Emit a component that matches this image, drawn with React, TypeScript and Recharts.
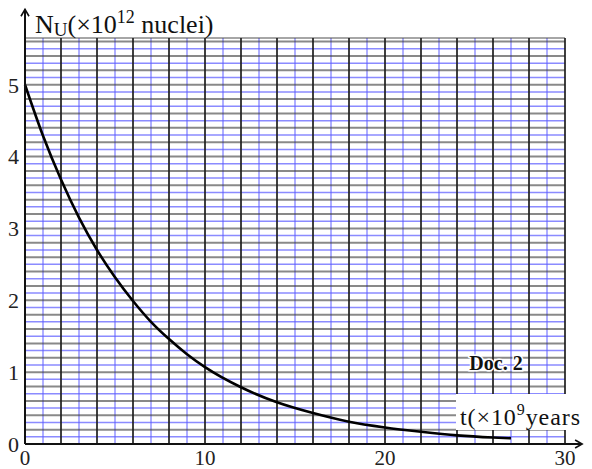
import { Line, LineChart, ReferenceLine, XAxis, YAxis } from "recharts";

// time in 10^9 years, remaining uranium nuclei in 10^12
const tYears = [0, 1, 2, 3, 4, 5, 6, 7, 8, 9, 10, 12, 14, 16, 18, 20, 22, 24, 26, 27];
const nuclei = [5, 4.29, 3.68, 3.15, 2.7, 2.32, 1.99, 1.7, 1.46, 1.25, 1.07, 0.79, 0.58, 0.43, 0.31, 0.23, 0.17, 0.12, 0.09, 0.08];

const xTicks = [0, 10, 20, 30];
const yTicks = [0, 1, 2, 3, 4, 5];

// graph paper: one column per 10^9 years, one row per 0.1 x 10^12 nuclei
const gridCols = Array.from({ length: 30 }, (_, i) => i + 1);
const gridRows = Array.from({ length: 56 }, (_, i) => (i + 1) / 10);

const data = tYears.map((t, i) => ({ t, n: nuclei[i] }));

const FONT = "'Liberation Serif', 'Times New Roman', serif";
const BLUE = "#5a5aff";
const DARK = "#3a3a3a";

function ArrowLine(props: any) {
  const { x1, y1, x2, y2 } = props;
  const vertical = Math.abs(x1 - x2) < 1;
  const head = vertical
    ? `M${x2 - 4},${y2 + 7} L${x2},${y2} L${x2 + 4},${y2 + 7}`
    : `M${x2 - 7},${y2 - 4} L${x2},${y2} L${x2 - 7},${y2 + 4}`;
  return (
    <g>
      <line x1={x1} y1={y1} x2={x2} y2={y2} stroke="#111" strokeWidth={2} />
      <path d={head} fill="none" stroke="#111" strokeWidth={1.6} />
    </g>
  );
}

export default function App() {
  return (
    <div style={{ position: "absolute", left: 0, top: 0, width: 592, height: 469, background: "#fff" }}>
      <LineChart width={592} height={469} data={data} margin={{ top: 38, right: 27, bottom: 0, left: 0 }}>
        <XAxis
          dataKey="t"
          type="number"
          domain={[0, 30]}
          ticks={xTicks}
          axisLine={false}
          tickLine={false}
          tickSize={5}
          tickMargin={1}
          height={25}
          tick={{ fill: "#222", fontSize: 21, fontFamily: FONT }}
          interval={0}
        />
        <YAxis
          type="number"
          domain={[0, 5.65]}
          ticks={yTicks}
          axisLine={false}
          tickLine={false}
          tickSize={0}
          tickMargin={6}
          width={25}
          tick={{ fill: "#222", fontSize: 22, fontFamily: FONT }}
          interval={0}
        />
        {gridRows.map((v, i) =>
          i % 2 === 0 ? (
            <ReferenceLine key={`hb${v}`} y={v} stroke={BLUE} strokeOpacity={0.7} strokeWidth={1.5} />
          ) : null
        )}
        {gridCols.map((v) =>
          v % 2 === 1 ? (
            <ReferenceLine key={`vb${v}`} x={v} stroke={BLUE} strokeOpacity={0.65} strokeWidth={1.5} />
          ) : null
        )}
        {gridRows.map((v, i) =>
          i % 2 === 1 ? (
            <ReferenceLine key={`hk${v}`} y={v} stroke={DARK} strokeOpacity={0.6} strokeWidth={2} />
          ) : null
        )}
        <ReferenceLine y={5.65} stroke={DARK} strokeOpacity={0.45} strokeWidth={2} />
        {gridCols.map((v) =>
          v % 2 === 0 ? (
            <ReferenceLine key={`vk${v}`} x={v} stroke="#1e1e1e" strokeOpacity={0.85} strokeWidth={2} />
          ) : null
        )}
        <Line
          type="monotone"
          dataKey="n"
          stroke="#000"
          strokeWidth={2.6}
          dot={false}
          isAnimationActive={false}
        />
        <ReferenceLine
          segment={[{ x: 0, y: 0 }, { x: 0, y: 6.05 }]}
          ifOverflow="visible"
          shape={ArrowLine}
        />
        <ReferenceLine
          segment={[{ x: 0, y: 0 }, { x: 30.95, y: 0 }]}
          ifOverflow="visible"
          shape={ArrowLine}
        />
      </LineChart>
      <svg width={592} height={469} style={{ position: "absolute", left: 0, top: 0, pointerEvents: "none" }}>
        <text x={35} y={33} fontFamily={FONT} fontSize={26} fill="#111">
          N
          <tspan fontSize={19} dy={3}>U</tspan>
          <tspan fontSize={26} dy={-3}>(×10</tspan>
          <tspan fontSize={18} dy={-10}>12</tspan>
          <tspan fontSize={26} dy={10}> nuclei)</tspan>
        </text>
        <text
          x={496}
          y={370}
          textAnchor="middle"
          fontFamily={FONT}
          fontSize={20}
          fontWeight="bold"
          fill="#111"
          stroke="#fff"
          strokeWidth={3}
          paintOrder="stroke"
        >
          Doc. 2
        </text>
        <rect x={456} y={394} width={128} height={36} fill="#fff" />
        <text x={460} y={425} fontFamily={FONT} fontSize={24} fill="#111" textLength={120} lengthAdjust="spacing">
          t(×10
          <tspan fontSize={16} dy={-10}>9</tspan>
          <tspan fontSize={24} dy={10}>years</tspan>
        </text>
      </svg>
    </div>
  );
}
